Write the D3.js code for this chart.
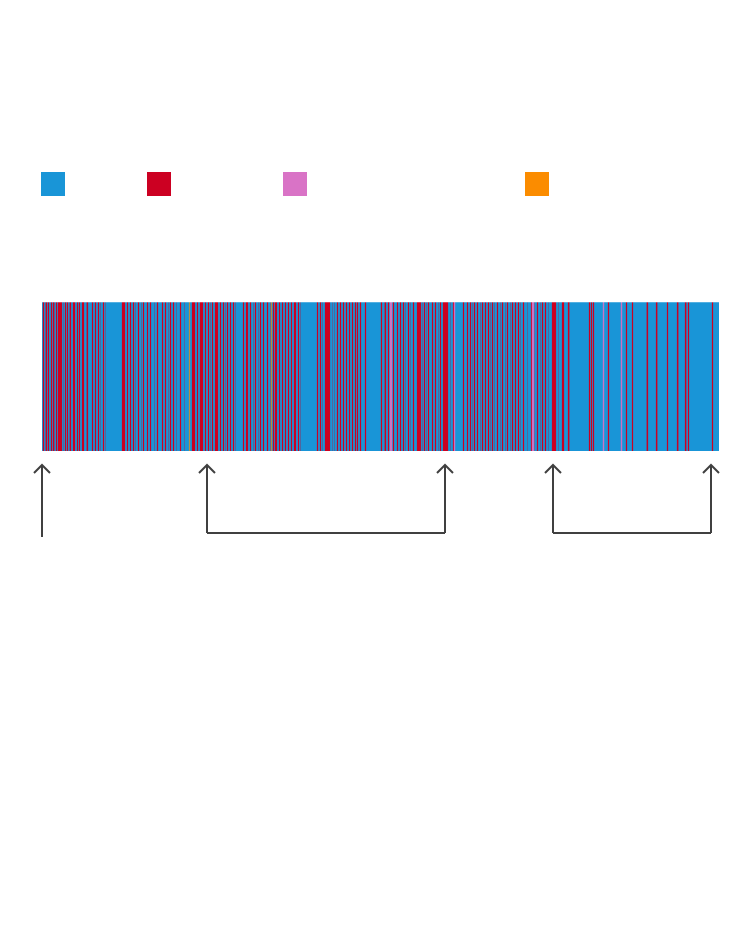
<!DOCTYPE html>
<html>
<head>
<meta charset="utf-8">
<script src="https://cdn.jsdelivr.net/npm/d3@7"></script>
<style>
  html, body { margin: 0; padding: 0; background: #fff; }
  svg { display: block; font-family: "Noto Sans", sans-serif; }
</style>
</head>
<body>
<div id="chart"></div>
<script>
// ---------- data ----------
const categories = ["blue", "red", "pink", "orange"];
const categoryColors = ["#1995d7", "#cc0022", "#d973c6", "#fb8c00"];

// sequence of records (positions along the strip, 0..totalRecords)
const totalRecords = 677;

// records that belong to the "red" category (others are "blue" unless listed below)
const redRecords = [
  1, 4, 6, 9, 11, 14, 16, 17, 18, 19, 23, 25, 28, 31, 32, 35, 37, 40, 41, 45, 50, 53, 56,
  61, 80, 81, 82, 85, 88, 91, 96, 101, 105, 108,
  115, 120, 123, 128, 131, 138, 150, 151, 152, 155, 158, 159, 160, 163, 166, 170, 173, 174, 175,
  178, 181, 185, 188, 191, 201, 204, 205, 208, 213, 218, 221, 225,
  231, 233, 234, 237, 240, 243, 246, 249, 252, 253, 256, 275, 278,
  283, 284, 285, 286, 287, 295, 298, 301, 304, 307, 310, 313, 315, 318, 323, 339, 343,
  346, 351, 355, 358, 361, 366, 371, 375, 376, 377, 378, 382, 386, 390, 393, 398,
  401, 402, 403, 404, 405, 411, 421, 425, 428, 432, 435, 440, 443, 446, 450, 455,
  460, 465, 470, 473, 476, 481, 489, 495, 500, 503, 510, 511, 512, 513, 520, 521,
  526, 547, 549, 551, 566, 584, 590, 605, 614, 625, 635, 643, 646, 670
];
// faint red records (thin, partly blended with blue)
const faintRedRecords = [
  3, 12, 21, 27, 44, 58, 63, 93, 99, 112, 126, 134, 142,
  168, 183, 193, 211, 216, 228, 258, 280, 290, 292,
  342, 349, 363, 368, 380, 384, 396, 408, 430, 438, 448, 452, 458, 463,
  468, 478, 485, 492, 498, 506, 516, 527, 579, 590, 604, 615, 636, 644
];
const pinkRecords = [348, 349, 412, 490, 491, 561, 579];
const orangeRecords = [147, 229];

// annotations: single marker position and bracketed ranges (record positions)
const markerPositions = [0];
const rangeBrackets = [[165, 403], [511, 669]];

// ---------- layout ----------
const W = 750, H = 932;
const svg = d3.select("#chart").append("svg").attr("width", W).attr("height", H);

const x = d3.scaleLinear().domain([0, totalRecords]).range([42, 719]);
const color = d3.scaleOrdinal().domain(categories).range(categoryColors);

const stripTop = 302, stripBottom = 451;

// legend
const legendX = [41, 147, 283, 525];
const legend = svg.append("g").attr("class", "legend");
legend.selectAll("rect").data(categories).join("rect")
  .attr("x", (d, i) => legendX[i])
  .attr("y", 172)
  .attr("width", 24)
  .attr("height", 24)
  .attr("fill", d => color(d));

// strip base (all records, blue)
const strip = svg.append("g").attr("class", "strip");
strip.append("rect")
  .attr("x", x(0))
  .attr("y", stripTop)
  .attr("width", x(totalRecords) - x(0))
  .attr("height", stripBottom - stripTop)
  .attr("fill", color("blue"));

function drawRecords(data, cat, w, op) {
  strip.append("g").selectAll("rect").data(data).join("rect")
    .attr("x", d => x(d + 0.5) - w / 2)
    .attr("y", stripTop)
    .attr("width", w)
    .attr("height", stripBottom - stripTop)
    .attr("fill", color(cat))
    .attr("opacity", op);
}
drawRecords(faintRedRecords, "red", 0.8, 0.4);
drawRecords(redRecords, "red", 1.2, 1);
drawRecords(pinkRecords, "pink", 1.4, 0.9);
drawRecords(orangeRecords, "orange", 1.2, 0.7);

// thin top highlight line of strip
strip.append("line")
  .attr("x1", x(0)).attr("x2", x(totalRecords))
  .attr("y1", stripTop + 0.5).attr("y2", stripTop + 0.5)
  .attr("stroke", "#ffffff").attr("stroke-opacity", 0.25);

// annotations
const ann = svg.append("g").attr("class", "annotations")
  .attr("fill", "none").attr("stroke", "#404040").attr("stroke-width", 2);
const arrowTop = 465, head = 8;
function arrow(px, bottom) {
  ann.append("path").attr("d", `M${px},${arrowTop}V${bottom}`);
  ann.append("path").attr("d", `M${px - head},${arrowTop + head}L${px},${arrowTop}L${px + head},${arrowTop + head}`);
}
markerPositions.forEach(p => arrow(x(p), 537));
rangeBrackets.forEach(([a, b]) => {
  const xa = x(a), xb = x(b);
  arrow(xa, 533);
  arrow(xb, 533);
  ann.append("path").attr("d", `M${xa},533H${xb}`);
});
</script>
</body>
</html>
